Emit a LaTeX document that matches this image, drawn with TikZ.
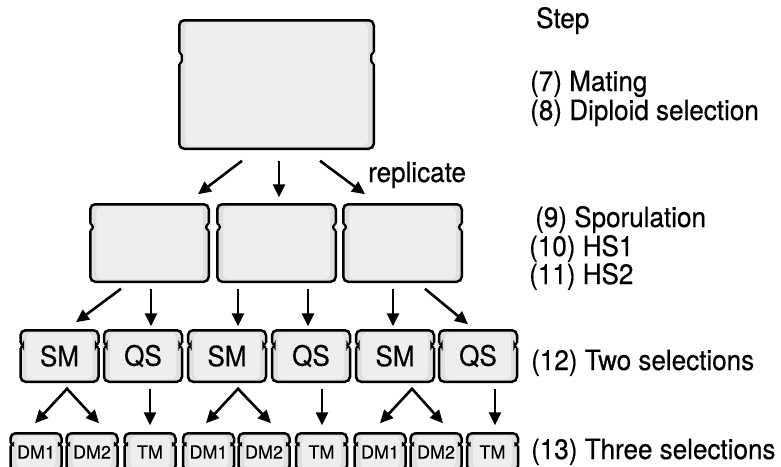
\documentclass[tikz,border=0pt]{standalone}
\usepackage{fontspec}
\setmainfont{TeX Gyre Heros}[FakeBold=0.4]
\newfontfamily\tallfont{TeX Gyre Heros}[FakeStretch=0.93, FakeBold=0.5]
\usetikzlibrary{arrows.meta,calc}
\definecolor{cplateband}{RGB}{224,224,224}
\definecolor{cplatecore}{RGB}{238,238,238}
\tikzset{
  plate/.style={rectangle, rounded corners=5pt, draw=black, line width=2.5pt, fill=cplateband,
    inner sep=0pt, outer sep=0pt,
    path picture={\fill[cplatecore] ([shift={(6pt,-2.5pt)}]path picture bounding box.north west)
      rectangle ([shift={(-6pt,2.5pt)}]path picture bounding box.south east);}},
  bigplate/.style={plate, minimum width=194.5pt, minimum height=128.5pt},
  midplate/.style={plate, minimum width=118.5pt, minimum height=77.5pt},
  selbox/.style={plate, minimum width=78pt, minimum height=51.5pt, font=\tallfont\fontsize{28}{32}\selectfont},
  subbox/.style={plate, minimum width=51pt, minimum height=37.5pt, font=\fontsize{18}{22}\selectfont},
  notch/.style={draw=black, line width=2.2pt, rounded corners=1pt},
  arr/.style={-{Triangle[length=13pt,width=12pt]}, line width=2.6pt},
  fork/.style={{Triangle[length=13pt,width=12pt]}-{Triangle[length=13pt,width=12pt]}, line width=2.6pt},
  steplbl/.style={anchor=base west, inner sep=0pt, font=\tallfont\fontsize{28}{32}\selectfont}
}

\begin{document}
\begin{tikzpicture}[x=1pt, y=-1pt]
  \useasboundingbox[fill=white] (0,0) rectangle (781,466);

  % plates
  \node[bigplate] (top) at (276.5, 84.5) {};

  \node[midplate] (spa) at (149.5, 243) {};
  \node[midplate] (spb) at (276.5, 243) {};
  \node[midplate] (spc) at (402.5, 243) {};

  \node[selbox] (sma) at (59.5, 356) {SM};
  \node[selbox] (qsa) at (143, 356) {QS};
  \node[selbox] (smb) at (227, 356) {SM};
  \node[selbox] (qsb) at (311, 356) {QS};
  \node[selbox] (smc) at (395, 356) {SM};
  \node[selbox] (qsc) at (478, 356) {QS};

  \node[subbox] (dmoa) at (36, 452) {DM1};
  \node[subbox] (dmta) at (92, 452) {DM2};
  \node[subbox] (tma) at (150, 452) {TM};
  \node[subbox] (dmob) at (208.5, 452) {DM1};
  \node[subbox] (dmtb) at (264, 452) {DM2};
  \node[subbox] (tmb) at (321.5, 452) {TM};
  \node[subbox] (dmoc) at (380, 452) {DM1};
  \node[subbox] (dmtc) at (436, 452) {DM2};
  \node[subbox] (tmc) at (492.5, 452) {TM};

  % side notches
  \foreach \n in {top,spa,spb,spc,sma,qsa,smb,qsb,smc,qsc,dmoa,dmta,tma,dmob,dmtb,tmb,dmoc,dmtc,tmc}{
    \foreach \s/\t/\d in {north west/south west/1, north east/south east/-1}{
      \coordinate (na) at ($(\n.\s)!0.25!(\n.\t)$);
      \coordinate (nb) at ($(\n.\s)!0.34!(\n.\t)$);
      \draw[white, line width=3pt] (na) -- (nb);
      \draw[notch] (na) -- ($(na)+(\d*2.5,2)$) -- ($(nb)+(\d*2.5,-2)$) -- (nb);
    }
  }

  % replicate
  \draw[arr] ([shift={(-34.5,12)}]top.south) -- ([shift={(48.5,-10)}]spa.north);
  \draw[arr] ([shift={(2.5,12)}]top.south) -- ([shift={(2.5,-7)}]spb.north);
  \draw[arr] ([shift={(43.5,12)}]top.south) -- ([shift={(-37.5,-10)}]spc.north);
  \node[steplbl] (repl) at (368, 182) {replicate};

  % two selections
  \draw[arr] ([shift={(-28.5,7)}]spa.south) -- ([shift={(16.5,-8)}]sma.north);
  \draw[arr] ([shift={(1.5,7)}]spa.south) -- ([shift={(8,-4)}]qsa.north);
  \draw[arr] ([shift={(-38.5,7)}]spb.south) -- ([shift={(11,-4)}]smb.north);
  \draw[arr] ([shift={(31.5,7)}]spb.south) -- ([shift={(-3,-4)}]qsb.north);
  \draw[arr] ([shift={(-9.5,7)}]spc.south) -- ([shift={(-2,-4)}]smc.north);
  \draw[arr] ([shift={(22.5,7)}]spc.south) -- ([shift={(-10,-6)}]qsc.north);

  % three selections
  \draw[fork] ([shift={(-1,-10)}]dmoa.north) -- ([shift={(7.5,7)}]sma.south) -- ([shift={(7,-10)}]dmta.north);
  \draw[fork] ([shift={(-2.5,-10)}]dmob.north) -- ([shift={(11,7)}]smb.south) -- ([shift={(7,-10)}]dmtb.north);
  \draw[fork] ([shift={(0,-10)}]dmoc.north) -- ([shift={(17,7)}]smc.south) -- ([shift={(7,-10)}]dmtc.north);
  \draw[arr] ([shift={(7,7)}]qsa.south) -- ([shift={(0,-8)}]tma.north);
  \draw[arr] ([shift={(11,7)}]qsb.south) -- ([shift={(0.5,-8)}]tmb.north);
  \draw[arr] ([shift={(17,7)}]qsc.south) -- ([shift={(2.5,-8)}]tmc.north);

  % steps
  \node[steplbl] (step) at (536, 28) {Step};
  \node[steplbl] (mating) at (530, 91) {(7) Mating};
  \node[steplbl] (diploid) at (530, 120) {(8) Diploid selection};
  \node[steplbl] (sporul) at (535, 227) {(9) Sporulation};
  \node[steplbl] (hsone) at (529, 256) {(10) HS1};
  \node[steplbl] (hstwo) at (529, 284) {(11) HS2};
  \node[steplbl] (twosel) at (531, 370) {(12) Two selections};
  \node[steplbl] (threesel) at (531, 459) {(13) Three selections};
\end{tikzpicture}
\end{document}
